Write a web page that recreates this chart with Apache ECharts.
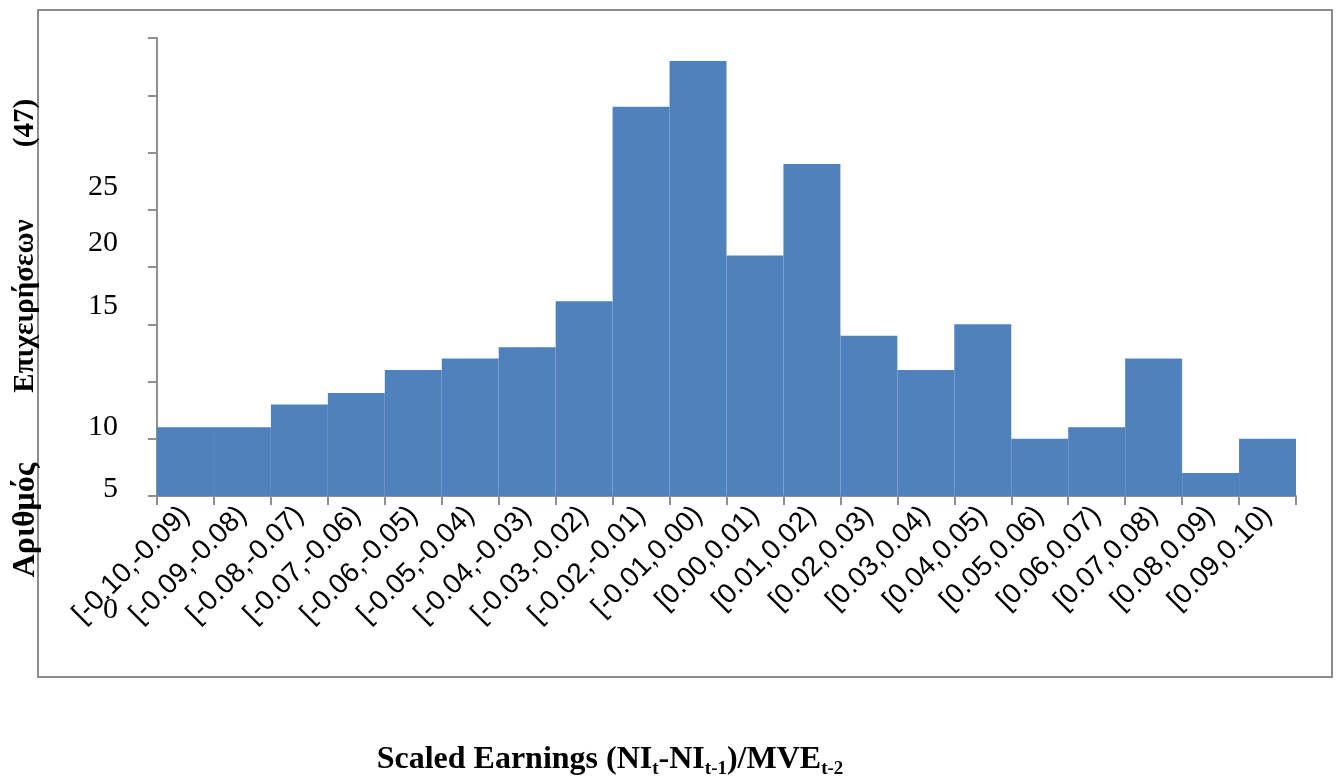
<!DOCTYPE html>
<html>
<head>
<meta charset="utf-8">
<title>Scaled Earnings histogram</title>
<script src="https://cdn.jsdelivr.net/npm/echarts@6/dist/echarts.min.js"></script>
<style>
  html, body { margin: 0; padding: 0; background: #ffffff; }
  #chart { width: 1337px; height: 776px; }
</style>
</head>
<body>
<div id="chart"></div>
<script>
// Histogram bins of scaled earnings changes
const categories = [
  '[-0.10,-0.09)', '[-0.09,-0.08)', '[-0.08,-0.07)', '[-0.07,-0.06)', '[-0.06,-0.05)',
  '[-0.05,-0.04)', '[-0.04,-0.03)', '[-0.03,-0.02)', '[-0.02,-0.01)', '[-0.01,0.00)',
  '[0.00,0.01)', '[0.01,0.02)', '[0.02,0.03)', '[0.03,0.04)', '[0.04,0.05)',
  '[0.05,0.06)', '[0.06,0.07)', '[0.07,0.08)', '[0.08,0.09)', '[0.09,0.10)'
];
// Number of firms per bin
const counts = [6, 6, 8, 9, 11, 12, 13, 17, 34, 38, 21, 29, 14, 11, 15, 5, 6, 12, 2, 5];
// Value-axis labels as printed beside the axis
const yTickLabels = ['25', '20', '15', '10', '5', '0'];
// Title pieces
const yTitleWords = ['Αριθμός', 'Επιχειρήσεων', '(47)'];

// Layout of the free-standing labels (page pixels)
const yLabelRight = 118;
const yLabelCenters = [187, 243, 306, 427, 489, 610];
const yTitleX = 26;
const yTitleCenters = [520, 306, 123];

const axisGray = '#8f8f8f';
const chart = echarts.init(document.getElementById('chart'), null, { renderer: 'canvas' });

const graphics = [
  {
    type: 'rect',
    shape: { x: 38, y: 10, width: 1294, height: 667 },
    style: { fill: 'none', stroke: '#8c8c8c', lineWidth: 2 },
    silent: true
  }
];
yTickLabels.forEach((t, i) => {
  graphics.push({
    type: 'text',
    x: yLabelRight,
    y: yLabelCenters[i],
    style: {
      text: t,
      fill: '#000',
      font: '30px "Liberation Serif", "Times New Roman", serif',
      textAlign: 'right',
      textVerticalAlign: 'middle'
    }
  });
});
yTitleWords.forEach((t, i) => {
  graphics.push({
    type: 'text',
    x: yTitleX,
    y: yTitleCenters[i],
    rotation: Math.PI / 2,
    style: {
      text: t,
      fill: '#000',
      font: (i === 0 ? 'bold 32px' : 'bold 29px') + ' "Liberation Serif", "Times New Roman", serif',
      textAlign: 'center',
      textVerticalAlign: 'middle'
    }
  });
});
graphics.push({
  type: 'text',
  x: 610,
  y: 776,
  style: {
    rich: {
      m: { fontFamily: 'Liberation Serif', fontWeight: 'bold', fontSize: 32, fill: '#000' },
      s: { fontFamily: 'Liberation Serif', fontWeight: 'bold', fontSize: 19, fill: '#000', verticalAlign: 'bottom', padding: [0, 0, -3, 0] }
    },
    text: '{m|Scaled Earnings (NI}{s|t}{m|-NI}{s|t-1}{m|)/MVE}{s|t-2}',
    textAlign: 'center',
    textVerticalAlign: 'bottom'
  }
});

chart.setOption({
  animation: false,
  backgroundColor: '#ffffff',
  grid: { left: 157, right: 41, top: 38, bottom: 280, containLabel: false },
  xAxis: {
    type: 'category',
    data: categories,
    boundaryGap: true,
    axisLine: { show: true, lineStyle: { color: axisGray, width: 2 } },
    axisTick: { show: true, alignWithLabel: false, length: 9, lineStyle: { color: axisGray, width: 2 } },
    axisLabel: {
      interval: 0,
      rotate: 45,
      margin: 15,
      color: '#000',
      fontFamily: 'Liberation Sans',
      fontSize: 28
    },
    splitLine: { show: false }
  },
  yAxis: {
    type: 'value',
    min: 0,
    max: 40,
    interval: 5,
    axisLine: { show: true, lineStyle: { color: axisGray, width: 2 } },
    axisTick: { show: true, length: 9, lineStyle: { color: axisGray, width: 2 } },
    axisLabel: { show: false },
    splitLine: { show: false }
  },
  series: [{
    type: 'bar',
    data: counts,
    barCategoryGap: '0%',
    itemStyle: { color: '#4f81bd' },
    z: 1
  }],
  graphic: graphics
});
</script>
</body>
</html>
